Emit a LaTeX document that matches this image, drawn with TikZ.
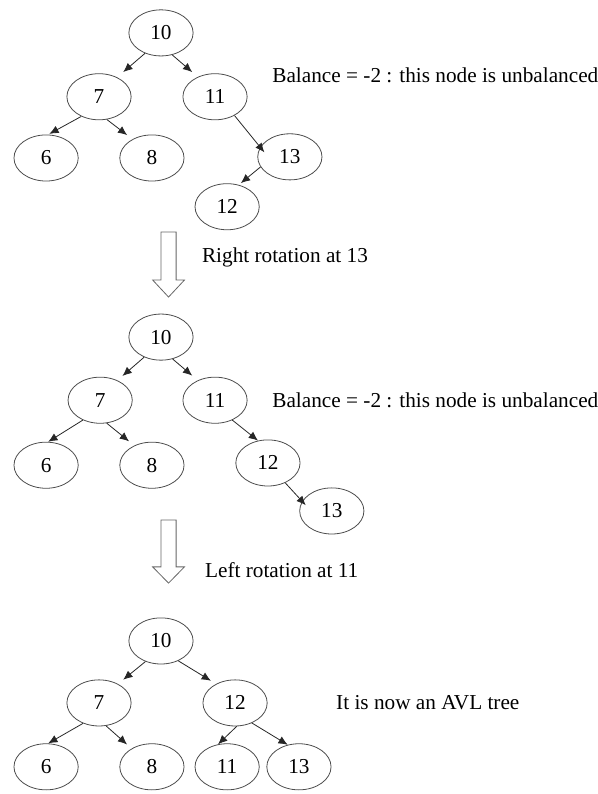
\documentclass[tikz,border=0pt]{standalone}
\usepackage{fontspec}
\setmainfont{Liberation Serif}
\usepackage{tikz}
\usetikzlibrary{positioning}
\usetikzlibrary{calc}
\usetikzlibrary{arrows.meta,shapes}

\begin{document}
\begin{tikzpicture}
\tikzstyle{key} =[ellipse,draw=black!70,line width=0.6pt,minimum width=1.7cm,minimum height=1.22cm,inner sep=0pt,font=\fontsize{16}{19}\selectfont]
\tikzstyle{link} =[draw=black!85,line width=0.6pt,-{Latex[length=7pt,width=6pt]}]
\tikzstyle{note} =[anchor=west,inner sep=0pt,font=\fontsize{16}{19}\selectfont]
\tikzstyle{step arrow} =[draw=black!60,line width=0.6pt,fill=white]
\useasboundingbox (0,0) rectangle (15.80,-21.01);

% first tree
\node[key](a10) at (4.26,-0.87) {10};
\node[key](a7) at ($(a10)+(-1.64,-1.69)$) {7};
\node[key](a11) at ($(a10)+(1.43,-1.69)$) {11};
\node[key](a6) at ($(a10)+(-3.04,-3.31)$) {6};
\node[key](a8) at ($(a10)+(-0.24,-3.31)$) {8};
\node[key](a13) at ($(a10)+(3.41,-3.28)$) {13};
\node[key](a12) at ($(a10)+(1.75,-4.60)$) {12};
\draw[link,shorten >=6pt] (a10.232)--(a7.47);
\draw[link,shorten >=5.5pt] (a10.297)--(a11.131);
\draw[link,shorten >=1pt] (a7.228)--(a6.85);
\draw[link,shorten >=5pt] (a7.289)--(a8.136);
\draw[link,shorten >=-5pt] (a11.316)--(a13.162);
\draw[link,shorten >=2pt] (a13.199)--(a12.62);
\node[note](bal1) at (7.20,-1.98) {Balance = -2 : this node is unbalanced};

% right rotation
\coordinate (r1) at (4.46,-6.14);
\draw[step arrow] ($(r1)+(-0.2,0)$) -- ($(r1)+(0.2,0)$) -- ($(r1)+(0.2,-1.27)$) -- ($(r1)+(0.42,-1.27)$)
  -- ($(r1)+(0,-1.72)$) -- ($(r1)+(-0.42,-1.27)$) -- ($(r1)+(-0.2,-1.27)$) -- cycle;
\node[note](rot1) at (5.34,-6.80) {Right rotation at 13};

% second tree
\node[key](b10) at (4.26,-8.92) {10};
\node[key](b7) at ($(b10)+(-1.61,-1.67)$) {7};
\node[key](b11) at ($(b10)+(1.43,-1.67)$) {11};
\node[key](b6) at ($(b10)+(-3.04,-3.39)$) {6};
\node[key](b8) at ($(b10)+(-0.24,-3.39)$) {8};
\node[key](b12) at ($(b10)+(2.83,-3.33)$) {12};
\node[key](b13) at ($(b10)+(4.52,-4.60)$) {13};
\draw[link,shorten >=5pt] (b10.230)--(b7.49);
\draw[link,shorten >=5.5pt] (b10.298)--(b11.131);
\draw[link] (b7.229)--(b6.85);
\draw[link,shorten >=5pt] (b7.286)--(b8.132);
\draw[link] (b11.311)--(b12.114);
\draw[link,shorten >=-4pt] (b12.311)--(b13.162);
\node[note](bal2) at (7.20,-10.58) {Balance = -2 : this node is unbalanced};

% left rotation
\coordinate (r2) at (4.46,-13.76);
\draw[step arrow] ($(r2)+(-0.2,0)$) -- ($(r2)+(0.2,0)$) -- ($(r2)+(0.2,-1.24)$) -- ($(r2)+(0.42,-1.24)$)
  -- ($(r2)+(0,-1.67)$) -- ($(r2)+(-0.42,-1.24)$) -- ($(r2)+(-0.2,-1.24)$) -- cycle;
\node[note](rot2) at (5.42,-15.08) {Left rotation at 11};

% third tree
\node[key](c10) at (4.26,-16.96) {10};
\node[key](c7) at ($(c10)+(-1.64,-1.64)$) {7};
\node[key](c12) at ($(c10)+(1.96,-1.64)$) {12};
\node[key](c6) at ($(c10)+(-3.04,-3.33)$) {6};
\node[key](c8) at ($(c10)+(-0.24,-3.33)$) {8};
\node[key](c11) at ($(c10)+(1.75,-3.33)$) {11};
\node[key](c13) at ($(c10)+(3.65,-3.33)$) {13};
\draw[link,shorten >=5pt] (c10.233)--(c7.45);
\draw[link,shorten >=4.5pt] (c10.311)--(c12.135);
\draw[link] (c7.232)--(c6.85);
\draw[link,shorten >=4.5pt] (c7.287)--(c8.138);
\draw[link] (c12.274)--(c11.112);
\draw[link] (c12.310)--(c13.117);
\node[note](avl) at (8.89,-18.60) {It is now an AVL tree};
\end{tikzpicture}
\end{document}
